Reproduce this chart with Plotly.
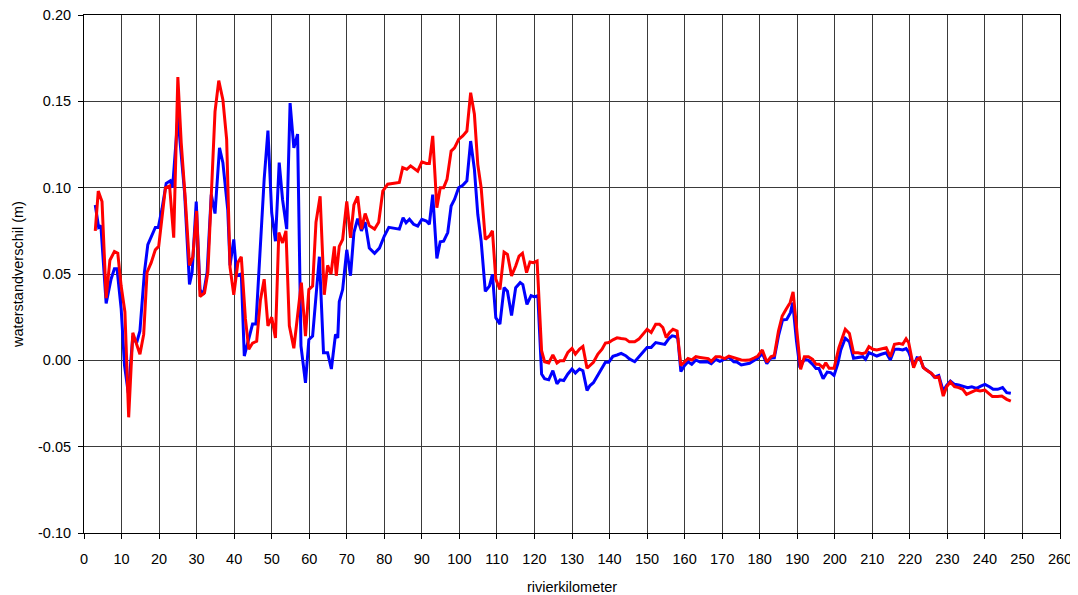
import plotly.graph_objects as go

# --- data (river km, water level difference in m) ---
blue_km = [3, 3.9, 4.5, 5.9, 7.2, 8.1, 8.8, 9.9, 10.8, 11.8, 13, 14, 14.9, 16.1, 17, 19, 19.8,
           20.8, 21.9, 23, 23.6, 25, 26.8, 28.1, 28.8, 29.9, 30.9, 31.8, 32.8, 33.9, 34.9, 36.1,
           37, 38.3, 38.9, 39.9, 40.7, 41.9, 42.7, 43.9, 44.9, 45.8, 46.9, 48, 49, 50, 51, 52,
           52.9, 54, 54.9, 55.9, 56.9, 57.8, 59, 59.9, 60.9, 62.7, 63.8, 64.9, 65.9, 67, 67.6,
           68, 68.9, 70, 71, 71.9, 72.9, 73.9, 74.9, 76, 77.4, 78.7, 80, 81.2, 84, 85, 85.8,
           86.7, 87.8, 88.9, 90, 91.2, 92, 92.9, 94, 94.9, 95.8, 96.9, 97.8, 98.7, 99.8, 100.9,
           102, 103, 104, 104.9, 105.8, 106.9, 108, 108.8, 109.7, 110.8, 111.9, 112.8, 113.9,
           115, 116.2, 116.9, 118, 119.1, 120, 120.9, 121.9, 122.7, 123.8, 124.9, 126, 126.8,
           127.8, 128.9, 130, 130.9, 132, 132.9, 134, 134.8, 135.7, 136.9, 138, 138.9, 139.8,
           140.9, 142, 143.1, 144.3, 145.3, 146.7, 147.8, 149, 150, 151.1, 152.3, 153.3, 154.7,
           155.8, 156.7, 157.6, 158.2, 159, 160, 160.9, 161.9, 163, 164.1, 165.4, 166.3, 167.1,
           168.3, 169.4, 170.7, 171.8, 173.1, 173.9, 175.1, 176.2, 177.3, 178.6, 179.5, 180.7,
           181.9, 183, 183.9, 185, 186.1, 187.2, 188.2, 188.8, 189.8, 190.7, 191.9, 193, 194.1,
           195, 195.8, 196.9, 198, 198.9, 199.8, 200.8, 201.6, 202.8, 203.9, 205, 206.2, 207.5,
           208.2, 209.1, 210.2, 211.2, 212.4, 213.7, 214.8, 215.9, 217.1, 218.1, 219, 219.7,
           221, 221.9, 222.7, 223.6, 224.5, 225.7, 226.5, 227.7, 228.9, 229.8, 230.8, 231.9,
           233, 234.2, 235.4, 236.5, 237.8, 238.9, 240, 241.2, 242.2, 243.4, 244.7, 245.8, 246.9]
blue_val = [0.090, 0.077, 0.078, 0.033, 0.047, 0.053, 0.053, 0.030, -0.003, -0.019, 0.014, 0.010,
            0.017, 0.051, 0.067, 0.077, 0.077, 0.088, 0.1025, 0.104, 0.100, 0.141, 0.097, 0.044,
            0.051, 0.092, 0.041, 0.038, 0.051, 0.096, 0.085, 0.123, 0.1145, 0.087, 0.055, 0.070,
            0.049, 0.050, 0.0025, 0.013, 0.021, 0.021, 0.060, 0.105, 0.133, 0.0855, 0.069, 0.1145,
            0.093, 0.076, 0.149, 0.123, 0.131, 0.0083, -0.013, 0.012, 0.014, 0.060, 0.0044, 0.0044,
            -0.005, 0.015, 0.013, 0.034, 0.041, 0.064, 0.049, 0.074, 0.082, 0.075, 0.080, 0.065,
            0.062, 0.065, 0.072, 0.077, 0.076, 0.0826, 0.0797, 0.0817, 0.0788, 0.0778, 0.0817,
            0.0807, 0.0788, 0.096, 0.059, 0.0687, 0.069, 0.074, 0.0894, 0.0932, 0.100, 0.1014,
            0.104, 0.127, 0.1106, 0.0846, 0.069, 0.040, 0.043, 0.0498, 0.0247, 0.021, 0.0421,
            0.040, 0.026, 0.0421, 0.045, 0.0439, 0.0324, 0.0375, 0.0368, 0.0375, -0.0079, -0.0107,
            -0.0113, -0.006, -0.0136, -0.0113, -0.0117, -0.0079, -0.005, -0.0073, -0.005, -0.006,
            -0.0174, -0.0146, -0.013, -0.0088, -0.005, -0.0011, -0.0011, 0.0023, 0.0031, 0.004,
            0.0027, 0.0008, -0.0008, 0.0023, 0.005, 0.0075, 0.0075, 0.0103, 0.010, 0.0092, 0.0126,
            0.0142, 0.0138, 0.0126, -0.0065, -0.003, -0.0008, -0.0023, 0.0002, -0.001, -0.0008,
            -0.001, -0.0019, 0.0006, -0.0006, 0.0006, 0.0017, -0.0008, -0.001, -0.0027, -0.0023,
            -0.0017, 0.0, 0.0012, 0.004, -0.0019, 0.0014, 0.0015, 0.0141, 0.0234, 0.0237, 0.0276,
            0.0334, 0.0112, -0.0042, 0.0006, 0.0, -0.0023, -0.0048, -0.0048, -0.0106, -0.0068,
            -0.0071, -0.0087, -0.002, 0.006, 0.0128, 0.0107, 0.0012, 0.0015, 0.0021, 0.0006,
            0.0044, 0.0035, 0.0025, 0.0035, 0.0044, 0.0002, 0.0064, 0.0064, 0.006, 0.0068, 0.0048,
            -0.0033, 0.0015, 0.0012, -0.0042, -0.0056, -0.0075, -0.0097, -0.0087, -0.0178, -0.0145,
            -0.012, -0.0139, -0.0143, -0.0149, -0.0158, -0.0153, -0.0162, -0.0149, -0.0139,
            -0.0153, -0.0168, -0.0168, -0.0158, -0.0187, -0.0191]

red_km = [3, 3.8, 4.8, 5.9, 6.9, 8.1, 9, 9.9, 10.9, 11.9, 13, 13.9, 14.9, 15.9, 16.8, 17.9, 19,
          19.9, 20.8, 21.7, 22.8, 23.9, 25, 25.9, 27, 28.1, 29, 30, 30.9, 32.1, 33, 33.9, 34.9,
          35.9, 37, 38, 38.9, 39.9, 41, 41.9, 43, 43.9, 44.9, 46, 47, 48, 49, 50, 51, 51.9, 52.9,
          53.8, 54.7, 55.9, 56.9, 57.9, 59, 59.9, 60.9, 61.8, 62.9, 64, 64.9, 65.8, 66.7, 67.2,
          68, 68.9, 70, 71, 71.9, 72.9, 73.9, 74.9, 76, 77.4, 78.5, 79.6, 80.9, 84, 84.9, 86, 87,
          88.1, 88.9, 90, 91.2, 92, 92.9, 94, 94.9, 95.8, 96.7, 97.8, 98.7, 99.8, 100.9, 102, 103,
          104, 104.9, 105.8, 106.9, 108, 108.8, 109.7, 110.8, 111.9, 112.8, 113.9, 115, 115.9,
          116.8, 117.9, 118.8, 119.7, 120.7, 121.9, 122.7, 123.8, 124.9, 126, 126.8, 127.8,
          128.9, 130, 130.9, 132, 132.9, 134, 134.8, 135.7, 136.9, 138, 138.9, 139.8, 140.9, 142,
          143.1, 144.3, 145.3, 146.7, 147.8, 149, 150, 151.1, 152.3, 153.3, 154.2, 155.1, 156,
          156.9, 158, 159, 160, 160.9, 161.9, 163, 164.1, 165.4, 166.3, 167.1, 168.3, 169.4,
          170.7, 171.8, 173.1, 173.9, 175.1, 176.2, 177.3, 178.6, 179.5, 180.7, 181.9, 183,
          183.9, 185, 186, 187, 188.1, 188.9, 189.8, 190.9, 191.9, 193, 194.1, 195, 195.8, 196.9,
          197.6, 198.5, 199.8, 201.1, 202.8, 203.9, 205, 206.2, 207.3, 208.2, 209.1, 210.2,
          211.2, 212.4, 213.7, 214.8, 215.9, 217.1, 218.1, 219, 219.7, 221, 221.9, 222.7, 223.6,
          224.5, 225.7, 226.8, 227.7, 228.9, 229.8, 230.8, 231.9, 233, 234.1, 235.1, 236.3,
          237.6, 238.7, 240, 241, 242, 243.4, 244.5, 245.8, 246.9]
red_val = [0.075, 0.098, 0.092, 0.036, 0.058, 0.063, 0.062, 0.043, 0.028, -0.033, 0.016, 0.010,
           0.0035, 0.015, 0.051, 0.0566, 0.064, 0.066, 0.0836, 0.100, 0.101, 0.071, 0.164, 0.126,
           0.093, 0.055, 0.060, 0.0865, 0.037, 0.039, 0.051, 0.091, 0.144, 0.162, 0.151, 0.128,
           0.054, 0.038, 0.0566, 0.060, 0.024, 0.0064, 0.010, 0.011, 0.035, 0.047, 0.020, 0.025,
           0.013, 0.074, 0.068, 0.075, 0.020, 0.007, 0.0276, 0.045, 0.014, 0.041, 0.043, 0.080,
           0.095, 0.038, 0.055, 0.050, 0.066, 0.049, 0.066, 0.070, 0.092, 0.071, 0.090, 0.095,
           0.076, 0.085, 0.078, 0.076, 0.080, 0.098, 0.102, 0.103, 0.1116, 0.1106, 0.1126,
           0.1106, 0.1096, 0.1149, 0.114, 0.114, 0.130, 0.0884, 0.100, 0.100, 0.1048, 0.1212,
           0.123, 0.128, 0.130, 0.1328, 0.155, 0.1425, 0.1135, 0.100, 0.070, 0.072, 0.075, 0.047,
           0.041, 0.0627, 0.0614, 0.0489, 0.0546, 0.0604, 0.062, 0.0508, 0.057, 0.0566, 0.0575,
           0.0056, -0.0008, -0.0015, 0.0031, -0.0015, -0.0002, -0.0002, 0.0046, 0.0069, 0.0036,
           0.0065, 0.008, -0.0046, -0.0031, -0.0011, 0.0036, 0.0065, 0.010, 0.0103, 0.0119,
           0.013, 0.0126, 0.0123, 0.0107, 0.0107, 0.0123, 0.0157, 0.018, 0.0161, 0.0209, 0.0209,
           0.019, 0.0132, 0.0161, 0.018, 0.017, -0.0030, -0.0011, 0.0011, 0.0002, 0.0021, 0.0017,
           0.0012, 0.001, -0.0006, 0.0021, 0.0021, 0.001, 0.0025, 0.0015, 0.001, 0.0002, 0.0,
           0.0002, 0.0015, 0.0025, 0.006, -0.001, 0.0021, 0.0029, 0.017, 0.0257, 0.0295, 0.0334,
           0.0396, 0.0199, -0.0052, 0.0021, 0.0021, 0.0006, -0.0023, -0.0023, -0.0042, -0.0014,
           -0.0046, -0.0046, 0.0073, 0.018, 0.0156, 0.0044, 0.0044, 0.0039, 0.0044, 0.0079,
           0.0064, 0.006, 0.0068, 0.0073, 0.0021, 0.0093, 0.0098, 0.0093, 0.0125, 0.0102,
           -0.0042, 0.0006, 0.0015, -0.0042, -0.0058, -0.0075, -0.010, -0.0095, -0.0207, -0.0153,
           -0.0125, -0.0153, -0.0158, -0.0168, -0.0197, -0.0187, -0.0172, -0.0178, -0.0172,
           -0.0191, -0.021, -0.021, -0.0207, -0.0226, -0.0236]

y_tick_vals = [-0.10, -0.05, 0.00, 0.05, 0.10, 0.15, 0.20]
y_tick_text = ["-0.10", "-0.05", "0.00", "0.05", "0.10", "0.15", "0.20"]

x_title = "rivierkilometer"
y_title = "waterstandverschil (m)"

FONT = "Liberation Sans, Arial, sans-serif"
GRID = "#3a3a3a"

fig = go.Figure()
fig.add_trace(go.Scatter(x=blue_km, y=blue_val, mode="lines",
                         line=dict(color="#0000FF", width=3), showlegend=False))
fig.add_trace(go.Scatter(x=red_km, y=red_val, mode="lines",
                         line=dict(color="#FF0000", width=3), showlegend=False))

# page body has an 8px margin: size the figure so the plot area lands where it should
fig.update_layout(
    width=1070, height=587,
    margin=dict(l=76, r=18, t=7, b=62, autoexpand=False),
    paper_bgcolor="white", plot_bgcolor="white",
    font=dict(family=FONT, size=14.5, color="black"),
    showlegend=False,
)
fig.update_xaxes(
    range=[0, 260], tick0=0, dtick=10, automargin=False,
    showgrid=True, gridcolor=GRID, gridwidth=1,
    showline=True, linecolor="black", linewidth=1, mirror=True,
    ticks="outside", ticklen=5, tickcolor="black",
    ticklabelstandoff=8, ticklabeloverflow="allow",
    zeroline=False,
    title=dict(text=x_title, standoff=20, font=dict(size=14.5)),
)
fig.update_yaxes(
    range=[-0.1, 0.2], tickvals=y_tick_vals, ticktext=y_tick_text, automargin=False,
    showgrid=True, gridcolor=GRID, gridwidth=1,
    showline=True, linecolor="black", linewidth=1, mirror=True,
    ticks="outside", ticklen=5, tickcolor="black",
    ticklabelstandoff=4, ticklabeloverflow="allow",
    zeroline=False,
    title=dict(text=y_title, standoff=10, font=dict(size=14.5)),
)

fig.write_html("out.html")
